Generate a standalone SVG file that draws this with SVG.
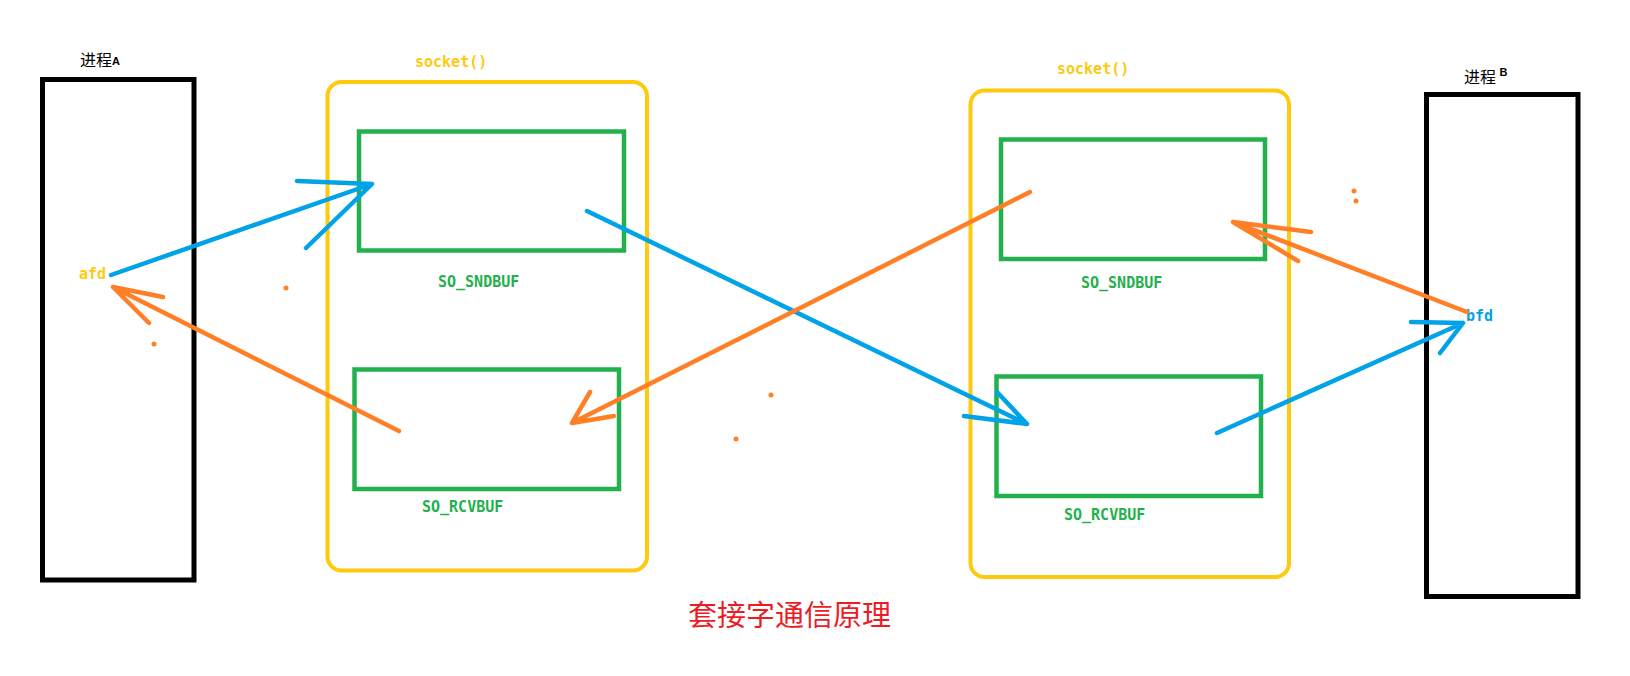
<svg xmlns="http://www.w3.org/2000/svg" width="1630" height="676" viewBox="0 0 1630 676">
<style>
.proc{fill:none;stroke:#000;stroke-width:5}
.sock{fill:none;stroke:#FFC90E;stroke-width:4}
.buf{fill:none;stroke:#22B14C;stroke-width:4.5}
.mono{font-family:"DejaVu Sans Mono","Liberation Mono",monospace;font-size:15px;font-weight:bold}
.y{fill:#FFC90E}
.g{fill:#22B14C}
.b{fill:#00A2E8}
.cjk{font-family:"Noto Sans CJK SC","Noto Sans CJK JP",sans-serif;fill:#000}
.ab{fill:none;stroke:#00A2E8;stroke-width:4.5;stroke-linecap:round;stroke-linejoin:round}
.ao{fill:none;stroke:#FF7F27;stroke-width:4.5;stroke-linecap:round;stroke-linejoin:round}
.dot{fill:#FF7F27}
</style>
<rect width="1630" height="676" fill="#fff"/>
<g id="processA">
<rect class="proc" x="42.5" y="79.5" width="151.5" height="500.5"/>
<text class="cjk" x="80" y="66" font-size="16">进程<tspan font-family="Liberation Sans,sans-serif" font-weight="bold" font-size="11" dy="-1">A</tspan></text>
<text class="mono y" x="79" y="279">afd</text>
</g>
<g id="socket1">
<rect class="sock" x="327.5" y="82" width="319.5" height="488.5" rx="14"/>
<text class="mono y" x="415" y="67">socket()</text>
</g>
<g id="sndbuf1">
<rect class="buf" x="359" y="131.5" width="265" height="119"/>
<text class="mono g" x="438" y="287">SO_SNDBUF</text>
</g>
<g id="rcvbuf1">
<rect class="buf" x="354.5" y="369.5" width="264.5" height="119.5"/>
<text class="mono g" x="422" y="512">SO_RCVBUF</text>
</g>
<g id="socket2">
<rect class="sock" x="970.5" y="90.5" width="318.5" height="486.5" rx="14"/>
<text class="mono y" x="1057" y="74">socket()</text>
</g>
<g id="sndbuf2">
<rect class="buf" x="1001" y="139.5" width="264" height="119.5"/>
<text class="mono g" x="1081" y="288">SO_SNDBUF</text>
</g>
<g id="rcvbuf2">
<rect class="buf" x="996.5" y="376.5" width="264.5" height="119.5"/>
<text class="mono g" x="1064" y="520">SO_RCVBUF</text>
</g>
<g id="processB">
<rect class="proc" x="1426.5" y="94.5" width="151.5" height="502"/>
<text class="cjk" x="1464" y="83" font-size="16">进程 <tspan font-family="Liberation Sans,sans-serif" font-weight="bold" font-size="11" dy="-7">B</tspan></text>
<text class="mono b" x="1466" y="321">bfd</text>
</g>
<g id="connectors">
<path class="ab" d="M111 275 L372 184 M297 181 L372 184 L306 248"/>
<path class="ao" d="M399 431 L113 287 M163 297 L113 287 L149 323"/>
<path class="ab" d="M587 211 L1027 424 M964 416 L1027 424 L997 392"/>
<path class="ao" d="M1030 192 L572 423 M590 392 L572 423 L614 416"/>
<path class="ao" d="M1467 312 L1233 222 M1311 232 L1233 222 L1298 261"/>
<path class="ab" d="M1217 433 L1463 323 M1411 322 L1463 323 L1440 353"/>
</g>
<g id="marks">
<circle class="dot" cx="286" cy="288" r="2.5"/>
<circle class="dot" cx="154" cy="344" r="2.5"/>
<circle class="dot" cx="771" cy="395" r="2.5"/>
<circle class="dot" cx="736" cy="439" r="2.5"/>
<circle class="dot" cx="1354" cy="191" r="2.5"/>
<circle class="dot" cx="1356" cy="201" r="2.5"/>
</g>
<g id="title">
<text x="688" y="626" font-family="Noto Sans CJK SC,Noto Sans CJK JP,sans-serif" font-size="29" fill="#ED1C24">套接字通信原理</text>
</g>
</svg>
